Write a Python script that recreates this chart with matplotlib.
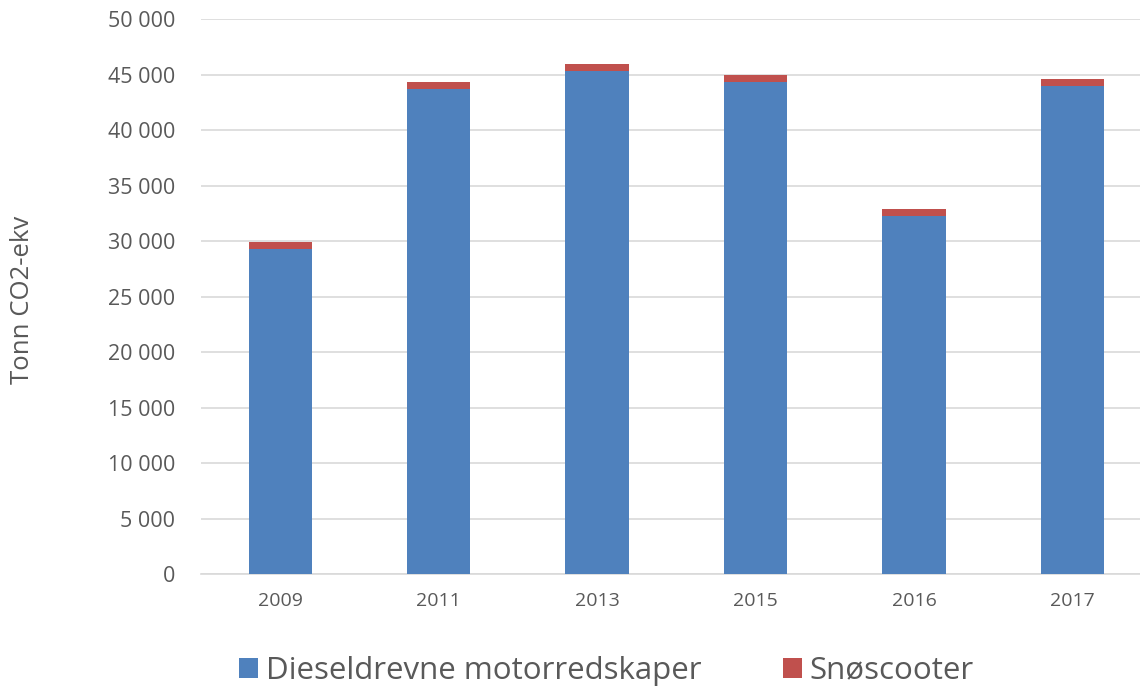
import matplotlib.pyplot as plt
import numpy as np
from matplotlib.ticker import FuncFormatter

plt.rcParams['font.family'] = ['Open Sans', 'DejaVu Sans']

years = ["2009", "2011", "2013", "2015", "2016", "2017"]
diesel = [29260, 43690, 45310, 44320, 32240, 43960]
snoscooter = [690, 630, 630, 630, 630, 630]

BLUE = '#4F81BD'
RED = '#C0504D'
GREY = '#595959'

fig = plt.figure(figsize=(11.4, 6.9), dpi=100)
ax = fig.add_axes([0.1763, 0.168, 0.834, 0.8043])

x = np.arange(len(years))
ax.bar(x, diesel, width=0.4, color=BLUE, label='Dieseldrevne motorredskaper', zorder=3)
ax.bar(x, snoscooter, width=0.4, bottom=diesel, color=RED, label='Snøscooter', zorder=3)

ax.set_xlim(-0.5, len(years) - 0.5)
ax.set_ylim(0, 50000)
ax.set_yticks(range(0, 50001, 5000))
ax.yaxis.set_major_formatter(FuncFormatter(lambda v, p: f"{int(v):,}".replace(",", " ")))
ax.set_xticks(x)
ax.set_xticklabels(years)
ax.grid(axis='y', color='#D9D9D9', linewidth=1.2, zorder=0)

for s in ['top', 'right', 'left']:
    ax.spines[s].set_visible(False)
ax.spines['bottom'].set_color('#D9D9D9')
ax.spines['bottom'].set_linewidth(1.2)
ax.tick_params(axis='y', length=0, pad=18.5, labelsize=15.5, labelcolor=GREY)
ax.tick_params(axis='x', length=0, pad=13, labelsize=14, labelcolor=GREY)

fig.text(0.02, 0.168 + 0.8043 / 2 - 0.005, 'Tonn CO2-ekv', rotation=90, va='center', ha='center',
         fontsize=18.5, color=GREY)

leg = fig.legend(loc='center', bbox_to_anchor=(0.532, 0.028), ncol=2, frameon=False,
                 fontsize=22.5, handlelength=0.6, handleheight=0.6, handletextpad=0.25,
                 columnspacing=2.6)
for t in leg.get_texts():
    t.set_color(GREY)

fig.savefig('out.png', dpi=100)
